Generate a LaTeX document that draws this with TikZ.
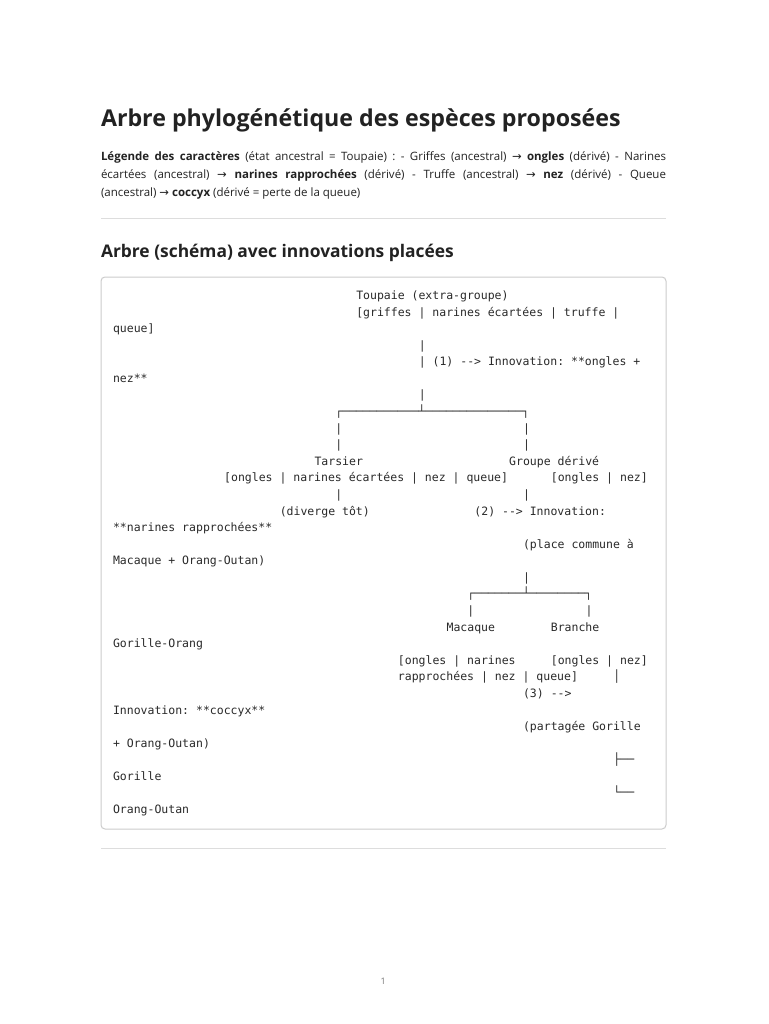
\documentclass[tikz,border=0pt]{standalone}
\usepackage{fontspec}
\setmainfont{Open Sans}
\newfontfamily\monof[Ligatures=TeXOff]{DejaVu Sans Mono}
\newfontfamily\arrowf{DejaVu Sans}
\definecolor{txt}{HTML}{222222}
\definecolor{mtxt}{HTML}{2A2A2A}
\definecolor{rulec}{HTML}{DDDDDD}
\definecolor{boxc}{HTML}{CCCCCC}
\definecolor{pnum}{HTML}{777777}
\newcommand\ar{{\arrowf →}}
\newcommand\ml[4]{\node[mono] (#1) at ({113+#2*6.95},{299.5+#3*16.58}) {#4};}
\frenchspacing
\begin{document}
\begin{tikzpicture}[x=1pt,y=-1pt,
  mono/.style={font=\monof\fontsize{11.5}{13}\selectfont, text=mtxt, anchor=base west, inner sep=0pt, outer sep=0pt},
  plain/.style={text=txt, anchor=base west, inner sep=0pt, outer sep=0pt},
  para/.style={plain, font=\frenchspacing\fontsize{11.5}{14}\selectfont},
  hrule/.style={draw=rulec, line width=1pt}]
\useasboundingbox[fill=white] (0,0) rectangle (768,1024);

% title
\node[plain, font=\bfseries\fontsize{23.2}{28}\selectfont] (title) at (101,127) {Arbre phylogénétique des espèces proposées};

% legend paragraph
\node[para] (leg1) at (101,161)
  {\makebox[565pt][s]{\textbf{Légende des caractères} (état ancestral = Toupaie) : - Griffes (ancestral) \ar{} \textbf{ongles} (dérivé) - Narines}};
\node[para] (leg2) at (101,179)
  {\makebox[565pt][s]{écartées (ancestral) \ar{} \textbf{narines rapprochées} (dérivé) - Truffe (ancestral) \ar{} \textbf{nez} (dérivé) - Queue}};
\node[para] (leg3) at (101,197)
  {(ancestral) \ar{} \textbf{coccyx} (dérivé = perte de la queue)};

\coordinate (r1a) at (101,219); \coordinate (r1b) at (666,219);
\draw[hrule] (r1a) -- (r1b);

% section heading
\node[plain, font=\bfseries\fontsize{17.4}{21}\selectfont] (h2) at (101,257) {Arbre (schéma) avec innovations placées};

% code box
\coordinate (bx1) at (101,277); \coordinate (bx2) at (666,829);
\draw[draw=boxc, line width=1pt, rounded corners=4pt] (bx1) rectangle (bx2);

% code lines
\ml{l0}{35}{0}{Toupaie (extra-groupe)}
\ml{l1}{35}{1}{[griffes | narines écartées | truffe |}
\ml{l2}{0}{2}{queue]}
\ml{l3}{44}{3}{|}
\ml{l4}{44}{4}{| (1) --> Innovation: **ongles +}
\ml{l5}{0}{5}{nez**}
\ml{l6}{44}{6}{|}
\ml{l7}{32}{7}{┌───────────┴──────────────┐}
\ml{l8a}{32}{8}{|}\ml{l8b}{59}{8}{|}
\ml{l9a}{32}{9}{|}\ml{l9b}{59}{9}{|}
\ml{tarsier}{29}{10}{Tarsier}\ml{groupe}{57}{10}{Groupe dérivé}
\ml{l11a}{16}{11}{[ongles | narines écartées | nez | queue]}\ml{l11b}{63}{11}{[ongles | nez]}
\ml{l12a}{32}{12}{|}\ml{l12b}{59}{12}{|}
\ml{l13a}{24}{13}{(diverge tôt)}\ml{l13b}{52}{13}{(2) --> Innovation:}
\ml{l14}{0}{14}{**narines rapprochées**}
\ml{l15}{59}{15}{(place commune à}
\ml{l16}{0}{16}{Macaque + Orang-Outan)}
\ml{l17}{59}{17}{|}
\ml{l18}{51}{18}{┌───────┴────────┐}
\ml{l19a}{51}{19}{|}\ml{l19b}{68}{19}{|}
\ml{macaque}{48}{20}{Macaque}\ml{branche}{63}{20}{Branche}
\ml{l21}{0}{21}{Gorille-Orang}
\ml{l22a}{41}{22}{[ongles | narines}\ml{l22b}{63}{22}{[ongles | nez]}
\ml{l23a}{41}{23}{rapprochées | nez | queue]}\ml{l23b}{72}{23}{│}
\ml{l24}{59}{24}{(3) -->}
\ml{l25}{0}{25}{Innovation: **coccyx**}
\ml{l26}{59}{26}{(partagée Gorille}
\ml{l27}{0}{27}{+ Orang-Outan)}
\ml{l28}{72}{28}{├──}
\ml{gorille}{0}{29}{Gorille}
\ml{l30}{72}{30}{└──}
\ml{orang}{0}{31}{Orang-Outan}

\coordinate (r2a) at (101,848); \coordinate (r2b) at (666,848);
\draw[hrule] (r2a) -- (r2b);

\node[plain, text=pnum, font=\fontsize{9}{11}\selectfont] (page) at (380.5,984) {1};
\end{tikzpicture}
\end{document}
